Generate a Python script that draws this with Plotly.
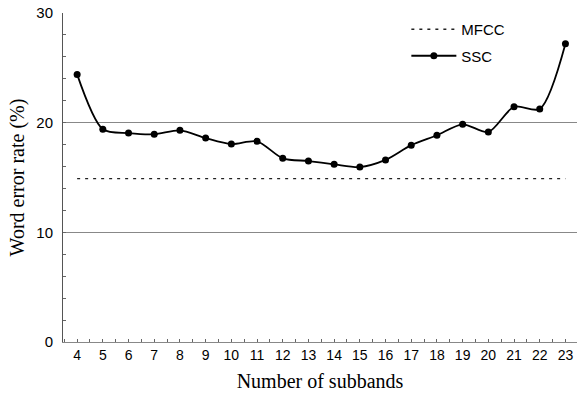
import plotly.graph_objects as go

subbands = list(range(4, 24))
ssc = [24.4, 19.4, 19.05, 18.95, 19.3, 18.6, 18.05, 18.3, 16.75, 16.5,
       16.2, 15.95, 16.6, 17.95, 18.85, 19.85, 19.15, 21.45, 21.25, 27.2]
mfcc = [14.9] * len(subbands)

fig = go.Figure()
fig.add_trace(go.Scatter(
    x=subbands, y=mfcc, name="MFCC", mode="lines", legendgroup="a",
    line=dict(color="#222", width=1.3, dash="3px,5px"),
))
fig.add_trace(go.Scatter(
    x=subbands, y=ssc, name="SSC", mode="lines+markers", legendgroup="b",
    line=dict(color="black", width=1.8, shape="spline", smoothing=0.8),
    marker=dict(color="black", size=7),
))

fig.update_layout(
    width=577, height=395,
    margin=dict(l=63, r=0, t=13, b=53),
    paper_bgcolor="white", plot_bgcolor="white",
    font=dict(family="Liberation Sans, Arial", color="black", size=14),
    legend=dict(x=0.668, y=1.0, xanchor="left", yanchor="top", itemwidth=45,
                font=dict(family="Liberation Sans, Arial", size=15),
                bgcolor="rgba(0,0,0,0)", tracegroupgap=4, traceorder="grouped"),
    xaxis=dict(
        range=[3.45, 23.45], tickmode="array", tickvals=subbands,
        ticks="inside", ticklen=3, tickcolor="#666",
        showline=True, linecolor="#888", linewidth=1,
        showgrid=False, zeroline=False, automargin=False,
        minor=dict(dtick=0.5, tick0=3.5, ticks="inside", ticklen=3, tickcolor="#666"),
        tickfont=dict(size=14),
        title=dict(text="Number of subbands", standoff=12,
                   font=dict(family="Liberation Serif, Times New Roman", size=20)),
    ),
    yaxis=dict(
        range=[0, 30], tickvals=[0, 10, 20, 30],
        ticks="inside", ticklen=3, tickcolor="#666",
        showline=True, linecolor="#555", linewidth=1,
        showgrid=True, gridcolor="#888", gridwidth=1, zeroline=False,
        automargin=False,
        minor=dict(dtick=2, ticks="inside", ticklen=3, tickcolor="#666", showgrid=False),
        tickfont=dict(size=15), ticklabelstandoff=6,
        title=dict(text="Word error rate (%)", standoff=6,
                   font=dict(family="Liberation Serif, Times New Roman", size=20)),
    ),
)

fig.write_html("out.html", config={"displayModeBar": False},
               post_script="document.body.style.margin='0px';")
